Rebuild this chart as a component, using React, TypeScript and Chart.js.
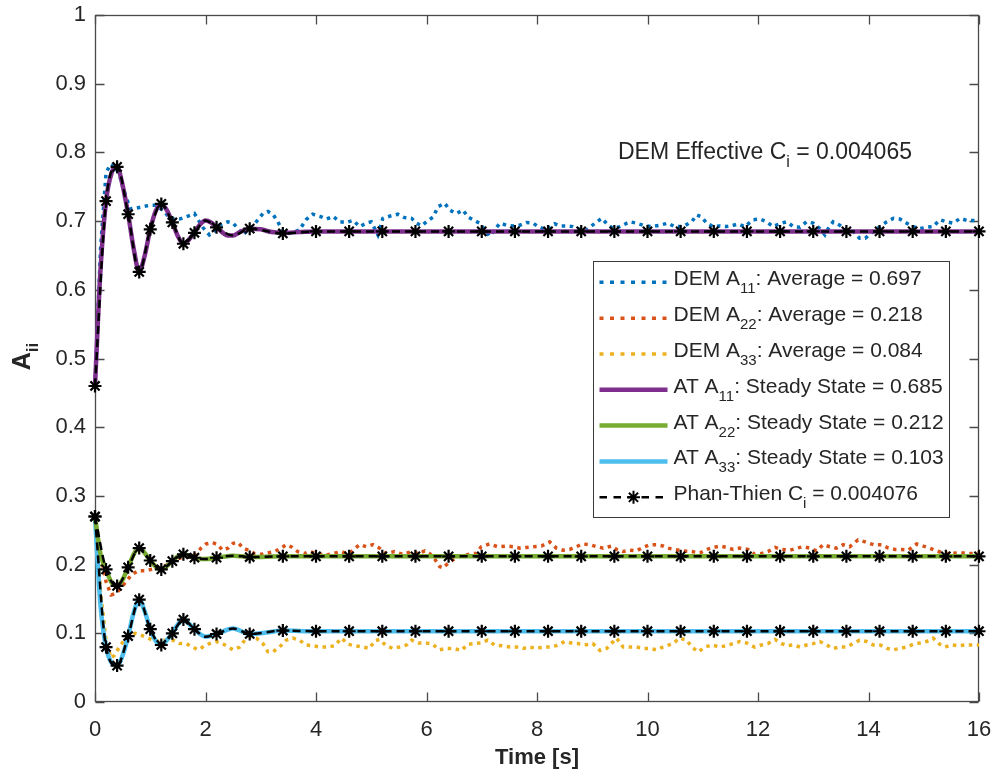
import React, { useEffect, useRef } from "react";
import { Chart, registerables } from "chart.js";

Chart.register(...registerables);

const FONT = "'Liberation Sans', Arial, Helvetica, sans-serif";
const INK = "#262626";
const AXIS = "#4a4a4a";

const COLORS = {
  demA11: "#0072BD",
  demA22: "#D95319",
  demA33: "#EDB120",
  atA11: "#7E2F8E",
  atA22: "#77AC30",
  atA33: "#4DBEEE",
  pt: "#000000",
};

// ---------- axis ticks ----------
const xTickValues = [0, 2, 4, 6, 8, 10, 12, 14, 16];
const xTickLabels = ["0", "2", "4", "6", "8", "10", "12", "14", "16"];
const yTickValues = [0, 0.1, 0.2, 0.3, 0.4, 0.5, 0.6, 0.7, 0.8, 0.9, 1];
const yTickLabels = ["0", "0.1", "0.2", "0.3", "0.4", "0.5", "0.6", "0.7", "0.8", "0.9", "1"];

const xTitle = "Time [s]";
const yTitle: [string, string, string] = ["A", "ii", ""];
const annotationText: [string, string, string] = ["DEM Effective C", "i", " = 0.004065"];

const legendLabels: [string, string, string][] = [
  ["DEM A", "11", ": Average = 0.697"],
  ["DEM A", "22", ": Average = 0.218"],
  ["DEM A", "33", ": Average = 0.084"],
  ["AT A", "11", ": Steady State = 0.685"],
  ["AT A", "22", ": Steady State = 0.212"],
  ["AT A", "33", ": Steady State = 0.103"],
  ["Phan-Thien C", "i", " = 0.004076"],
];

// ---------- DEM (noisy) series: [time, value] ----------
const demA11: [number, number][] = [
  [0, 0.46], [0.1, 0.66], [0.2, 0.77], [0.28, 0.783], [0.37, 0.779], [0.46, 0.762], [0.55, 0.738],
  [0.64, 0.718], [0.75, 0.719], [0.87, 0.721], [0.99, 0.723], [1.1, 0.723], [1.26, 0.714], [1.35, 0.704],
  [1.44, 0.703], [1.53, 0.703], [1.64, 0.706], [1.74, 0.709], [1.8, 0.711], [1.95, 0.691], [2.07, 0.68],
  [2.16, 0.685], [2.25, 0.694], [2.34, 0.697], [2.4, 0.699], [2.5, 0.697], [2.59, 0.689], [2.68, 0.68],
  [2.77, 0.687], [2.86, 0.693], [2.95, 0.702], [3.04, 0.711], [3.13, 0.714], [3.22, 0.71], [3.31, 0.699],
  [3.4, 0.685], [3.52, 0.682], [3.7, 0.687], [3.82, 0.702], [3.94, 0.71], [4.07, 0.707], [4.19, 0.703],
  [4.31, 0.707], [4.43, 0.699], [4.55, 0.698], [4.67, 0.701], [4.79, 0.692], [4.91, 0.697], [5.0, 0.699],
  [5.12, 0.68], [5.21, 0.704], [5.33, 0.707], [5.48, 0.71], [5.6, 0.705], [5.73, 0.704], [5.82, 0.697],
  [5.91, 0.693], [6.0, 0.699], [6.12, 0.706], [6.21, 0.721], [6.33, 0.726], [6.42, 0.716], [6.54, 0.711],
  [6.66, 0.716], [6.75, 0.706], [6.84, 0.702], [6.96, 0.697], [7.08, 0.685], [7.14, 0.678], [7.33, 0.697],
  [7.45, 0.694], [7.57, 0.693], [7.69, 0.694], [7.81, 0.698], [7.93, 0.697], [8.02, 0.692], [8.17, 0.687],
  [8.32, 0.696], [8.41, 0.693], [8.53, 0.693], [8.65, 0.692], [8.77, 0.688], [8.9, 0.687], [9.05, 0.697],
  [9.17, 0.704], [9.29, 0.694], [9.38, 0.689], [9.5, 0.692], [9.68, 0.699], [9.8, 0.697], [9.92, 0.694],
  [10.07, 0.692], [10.22, 0.694], [10.37, 0.697], [10.49, 0.692], [10.64, 0.692], [10.8, 0.699],
  [10.89, 0.709], [10.98, 0.706], [11.07, 0.697], [11.19, 0.692], [11.31, 0.693], [11.43, 0.692],
  [11.52, 0.693], [11.64, 0.696], [11.76, 0.692], [11.91, 0.702], [12.03, 0.703], [12.16, 0.699],
  [12.27, 0.692], [12.43, 0.697], [12.52, 0.699], [12.64, 0.692], [12.76, 0.691], [12.88, 0.699],
  [13.0, 0.697], [13.12, 0.689], [13.21, 0.68], [13.27, 0.689], [13.36, 0.699], [13.48, 0.694],
  [13.6, 0.687], [13.72, 0.685], [13.84, 0.675], [13.94, 0.675], [14.09, 0.685], [14.21, 0.692],
  [14.33, 0.699], [14.45, 0.704], [14.57, 0.703], [14.69, 0.697], [14.81, 0.692], [14.93, 0.689],
  [15.05, 0.691], [15.17, 0.692], [15.29, 0.702], [15.41, 0.699], [15.53, 0.697], [15.66, 0.704],
  [15.78, 0.701], [15.93, 0.701], [16.0, 0.7],
];

const demA22: [number, number][] = [
  [0, 0.27], [0.1, 0.215], [0.2, 0.175], [0.29, 0.156], [0.38, 0.158], [0.47, 0.166], [0.56, 0.175],
  [0.66, 0.185], [0.78, 0.191], [0.9, 0.191], [1.02, 0.193], [1.14, 0.195], [1.29, 0.199], [1.44, 0.207],
  [1.59, 0.211], [1.74, 0.211], [1.83, 0.216], [1.92, 0.224], [2.01, 0.23], [2.13, 0.232], [2.22, 0.229],
  [2.31, 0.221], [2.41, 0.224], [2.5, 0.231], [2.59, 0.232], [2.68, 0.224], [2.77, 0.221], [2.89, 0.216],
  [3.01, 0.215], [3.13, 0.217], [3.25, 0.219], [3.37, 0.224], [3.46, 0.229], [3.55, 0.226], [3.67, 0.219],
  [3.79, 0.216], [3.88, 0.219], [4.01, 0.216], [4.19, 0.214], [4.31, 0.216], [4.46, 0.219], [4.55, 0.216],
  [4.64, 0.219], [4.79, 0.229], [4.91, 0.226], [5.03, 0.229], [5.15, 0.224], [5.27, 0.216], [5.42, 0.219],
  [5.57, 0.215], [5.73, 0.219], [5.85, 0.216], [5.97, 0.22], [6.06, 0.216], [6.15, 0.208], [6.24, 0.197],
  [6.3, 0.195], [6.39, 0.202], [6.48, 0.207], [6.6, 0.212], [6.72, 0.214], [6.81, 0.216], [6.9, 0.216],
  [6.99, 0.226], [7.14, 0.23], [7.29, 0.226], [7.45, 0.227], [7.57, 0.226], [7.69, 0.224], [7.81, 0.225],
  [7.93, 0.226], [8.08, 0.227], [8.23, 0.233], [8.35, 0.224], [8.47, 0.221], [8.59, 0.222], [8.71, 0.226],
  [8.83, 0.23], [8.96, 0.229], [9.08, 0.226], [9.2, 0.224], [9.35, 0.227], [9.44, 0.222], [9.56, 0.219],
  [9.68, 0.221], [9.8, 0.22], [9.92, 0.225], [10.04, 0.229], [10.16, 0.229], [10.28, 0.227], [10.37, 0.224],
  [10.49, 0.222], [10.64, 0.22], [10.8, 0.219], [10.95, 0.217], [11.07, 0.222], [11.19, 0.225],
  [11.31, 0.227], [11.43, 0.225], [11.55, 0.222], [11.67, 0.224], [11.82, 0.222], [11.94, 0.215],
  [12.06, 0.216], [12.18, 0.219], [12.31, 0.225], [12.43, 0.222], [12.58, 0.221], [12.7, 0.224],
  [12.82, 0.226], [12.94, 0.224], [13.06, 0.22], [13.18, 0.229], [13.3, 0.226], [13.42, 0.224],
  [13.54, 0.229], [13.66, 0.226], [13.81, 0.236], [13.94, 0.233], [14.09, 0.229], [14.24, 0.229],
  [14.36, 0.224], [14.48, 0.222], [14.6, 0.222], [14.72, 0.221], [14.87, 0.23], [14.99, 0.227],
  [15.11, 0.224], [15.23, 0.22], [15.35, 0.217], [15.47, 0.216], [15.6, 0.217], [15.72, 0.217],
  [15.87, 0.216], [16.0, 0.217],
];

const demA33: [number, number][] = [
  [0, 0.27], [0.1, 0.16], [0.2, 0.09], [0.29, 0.064], [0.35, 0.068], [0.44, 0.08], [0.53, 0.09],
  [0.62, 0.095], [0.72, 0.1], [0.81, 0.098], [0.93, 0.094], [1.05, 0.09], [1.17, 0.088], [1.26, 0.09],
  [1.41, 0.09], [1.53, 0.085], [1.65, 0.085], [1.77, 0.08], [1.86, 0.076], [1.95, 0.08], [2.07, 0.085],
  [2.19, 0.088], [2.31, 0.085], [2.41, 0.08], [2.5, 0.076], [2.62, 0.08], [2.71, 0.09], [2.8, 0.095],
  [2.92, 0.093], [3.04, 0.085], [3.13, 0.073], [3.22, 0.073], [3.34, 0.08], [3.46, 0.09], [3.58, 0.093],
  [3.7, 0.09], [3.82, 0.083], [3.94, 0.082], [4.07, 0.08], [4.22, 0.08], [4.34, 0.082], [4.46, 0.093],
  [4.58, 0.084], [4.7, 0.082], [4.85, 0.08], [4.97, 0.078], [5.06, 0.089], [5.15, 0.091], [5.27, 0.082],
  [5.39, 0.078], [5.51, 0.08], [5.64, 0.083], [5.73, 0.09], [5.85, 0.086], [5.97, 0.086], [6.09, 0.085],
  [6.24, 0.076], [6.36, 0.078], [6.48, 0.078], [6.63, 0.075], [6.75, 0.084], [6.87, 0.085], [6.99, 0.086],
  [7.11, 0.09], [7.23, 0.083], [7.36, 0.082], [7.51, 0.08], [7.63, 0.08], [7.75, 0.078], [7.87, 0.08],
  [7.99, 0.078], [8.11, 0.08], [8.23, 0.08], [8.35, 0.082], [8.5, 0.088], [8.62, 0.086], [8.74, 0.085],
  [8.86, 0.083], [9.01, 0.085], [9.14, 0.075], [9.26, 0.078], [9.38, 0.088], [9.44, 0.093], [9.56, 0.08],
  [9.68, 0.08], [9.8, 0.08], [9.92, 0.078], [10.04, 0.078], [10.16, 0.076], [10.28, 0.08], [10.46, 0.085],
  [10.58, 0.093], [10.71, 0.09], [10.8, 0.08], [10.92, 0.073], [11.04, 0.08], [11.16, 0.083], [11.31, 0.08],
  [11.43, 0.082], [11.55, 0.085], [11.67, 0.088], [11.79, 0.086], [11.94, 0.08], [12.06, 0.083],
  [12.18, 0.085], [12.31, 0.091], [12.43, 0.085], [12.52, 0.082], [12.64, 0.083], [12.76, 0.08],
  [12.88, 0.083], [13.0, 0.085], [13.12, 0.088], [13.24, 0.083], [13.36, 0.078], [13.48, 0.08],
  [13.6, 0.08], [13.72, 0.085], [13.84, 0.09], [13.97, 0.088], [14.09, 0.083], [14.21, 0.083],
  [14.33, 0.078], [14.45, 0.076], [14.57, 0.078], [14.69, 0.08], [14.81, 0.084], [14.93, 0.086],
  [15.05, 0.088], [15.17, 0.093], [15.29, 0.084], [15.38, 0.08], [15.51, 0.083], [15.63, 0.082],
  [15.75, 0.083], [15.93, 0.083], [16.0, 0.083],
];

// ---------- AT (smooth) series: [time, value] ----------
const atA11: [number, number][] = [
  [0, 0.46], [0.1, 0.63], [0.2, 0.729], [0.3, 0.77], [0.4, 0.779], [0.5, 0.752], [0.6, 0.71], [0.7, 0.66],
  [0.8, 0.626], [0.9, 0.65], [1.0, 0.688], [1.1, 0.715], [1.2, 0.725], [1.3, 0.716], [1.4, 0.698],
  [1.5, 0.678], [1.6, 0.667], [1.7, 0.673], [1.8, 0.684], [1.9, 0.695], [2.0, 0.701], [2.1, 0.698],
  [2.2, 0.691], [2.3, 0.684], [2.4, 0.679], [2.5, 0.679], [2.6, 0.683], [2.7, 0.687], [2.8, 0.689],
  [3.0, 0.688], [3.2, 0.684], [3.4, 0.683], [3.7, 0.684], [4.0, 0.685], [16.0, 0.685],
];

const atA22: [number, number][] = [
  [0, 0.27], [0.1, 0.215], [0.2, 0.193], [0.3, 0.174], [0.4, 0.169], [0.5, 0.178], [0.6, 0.196],
  [0.7, 0.215], [0.8, 0.224], [0.9, 0.217], [1.0, 0.206], [1.1, 0.197], [1.2, 0.193], [1.3, 0.198],
  [1.4, 0.205], [1.5, 0.212], [1.6, 0.215], [1.7, 0.213], [1.8, 0.21], [1.9, 0.208], [2.0, 0.208],
  [2.2, 0.21], [2.5, 0.213], [2.8, 0.211], [3.4, 0.212], [16.0, 0.212],
];

const atA33: [number, number][] = [
  [0, 0.27], [0.1, 0.14], [0.2, 0.08], [0.3, 0.057], [0.4, 0.053], [0.5, 0.068], [0.6, 0.096],
  [0.7, 0.13], [0.8, 0.149], [0.9, 0.132], [1.0, 0.106], [1.1, 0.089], [1.2, 0.083], [1.3, 0.09],
  [1.4, 0.1], [1.5, 0.113], [1.6, 0.12], [1.7, 0.114], [1.8, 0.106], [1.9, 0.099], [2.0, 0.095],
  [2.2, 0.099], [2.5, 0.107], [2.8, 0.099], [3.1, 0.101], [3.4, 0.104], [4.0, 0.103], [16.0, 0.103],
];

// ---------- Phan-Thien model (marked points) ----------
const ptTime = [
  0, 0.2, 0.4, 0.6, 0.8, 1.0, 1.2, 1.4, 1.6, 1.8, 2.0, 2.2, 2.5, 2.8, 3.4,
  4.0, 4.6, 5.2, 5.8, 6.4, 7.0, 7.6, 8.2, 8.8, 9.4, 10.0, 10.6, 11.2, 11.8, 12.4, 13.0, 13.6, 14.2, 14.8, 15.4, 16.0,
];
const ptUnmarkedTimes = [2.0, 2.5];
const ptA11 = [
  0.46, 0.729, 0.779, 0.71, 0.626, 0.688, 0.725, 0.698, 0.667, 0.683, 0.701, 0.691, 0.679, 0.689, 0.682,
  0.685, 0.685, 0.685, 0.685, 0.685, 0.685, 0.685, 0.685, 0.685, 0.685, 0.685, 0.685, 0.685, 0.685, 0.685,
  0.685, 0.685, 0.685, 0.685, 0.685, 0.685,
];
const ptA22 = [
  0.27, 0.193, 0.169, 0.196, 0.224, 0.206, 0.193, 0.205, 0.215, 0.21, 0.208, 0.21, 0.213, 0.211, 0.212,
  0.212, 0.212, 0.212, 0.212, 0.212, 0.212, 0.212, 0.212, 0.212, 0.212, 0.212, 0.212, 0.212, 0.212, 0.212,
  0.212, 0.212, 0.212, 0.212, 0.212, 0.212,
];
const ptA33 = [
  0.27, 0.08, 0.053, 0.096, 0.149, 0.106, 0.083, 0.1, 0.12, 0.106, 0.095, 0.099, 0.107, 0.099, 0.104,
  0.103, 0.103, 0.103, 0.103, 0.103, 0.103, 0.103, 0.103, 0.103, 0.103, 0.103, 0.103, 0.103, 0.103, 0.103,
  0.103, 0.103, 0.103, 0.103, 0.103, 0.103,
];

type Kind = "dot" | "solid" | "pt";
const legendKinds: { kind: Kind; color: string }[] = [
  { kind: "dot", color: COLORS.demA11 },
  { kind: "dot", color: COLORS.demA22 },
  { kind: "dot", color: COLORS.demA33 },
  { kind: "solid", color: COLORS.atA11 },
  { kind: "solid", color: COLORS.atA22 },
  { kind: "solid", color: COLORS.atA33 },
  { kind: "pt", color: COLORS.pt },
];

const DOT_DASH = [3.5, 4.5];
const PT_DASH = [8, 5];
const STAR_R = 6.5;

function pairs(arr: [number, number][]) {
  return arr.map(([x, y]) => ({ x, y }));
}

function drawSub(
  ctx: CanvasRenderingContext2D,
  parts: [string, string, string],
  x: number,
  y: number,
  size: number,
  subSize: number,
  subDrop: number,
  bold = false,
  measureOnly = false
) {
  const w = bold ? "bold " : "";
  const main = `${w}${size}px ${FONT}`;
  const sub = `${w}${subSize}px ${FONT}`;
  let cx = x;
  ctx.font = main;
  if (!measureOnly) ctx.fillText(parts[0], cx, y);
  cx += ctx.measureText(parts[0]).width;
  ctx.font = sub;
  if (!measureOnly) ctx.fillText(parts[1], cx, y + subDrop);
  cx += ctx.measureText(parts[1]).width;
  ctx.font = main;
  if (!measureOnly) ctx.fillText(parts[2], cx, y);
  cx += ctx.measureText(parts[2]).width;
  return cx - x;
}

function drawStar(ctx: CanvasRenderingContext2D, x: number, y: number, r: number) {
  ctx.beginPath();
  for (let k = 0; k < 4; k++) {
    const a = (k * Math.PI) / 4;
    ctx.moveTo(x - Math.cos(a) * r, y - Math.sin(a) * r);
    ctx.lineTo(x + Math.cos(a) * r, y + Math.sin(a) * r);
  }
  ctx.stroke();
}

const decorPlugin = {
  id: "decor",
  beforeDatasetsDraw(chart: any) {
    const { ctx, chartArea: a, scales } = chart;
    ctx.save();
    ctx.strokeStyle = AXIS;
    ctx.lineWidth = 1.3;
    const L = a.left + 0.5, R = a.right - 0.5, T = a.top + 0.5, B = a.bottom - 0.5;
    ctx.strokeRect(L, T, R - L, B - T);
    ctx.beginPath();
    for (const t of scales.x.ticks) {
      const px = Math.round(scales.x.getPixelForValue(t.value)) + 0.5;
      ctx.moveTo(px, B); ctx.lineTo(px, B - 9);
      ctx.moveTo(px, T); ctx.lineTo(px, T + 9);
    }
    for (const t of scales.y.ticks) {
      const py = Math.round(scales.y.getPixelForValue(t.value)) + 0.5;
      ctx.moveTo(L, py); ctx.lineTo(L + 9, py);
      ctx.moveTo(R, py); ctx.lineTo(R - 9, py);
    }
    ctx.stroke();
    ctx.restore();
  },
  afterDraw(chart: any) {
    const { ctx, chartArea: a } = chart;
    ctx.save();
    ctx.fillStyle = INK;
    ctx.textBaseline = "alphabetic";
    ctx.textAlign = "left";

    // annotation
    drawSub(ctx, annotationText, 618, 158.5, 23, 16, 8);

    // y-axis title (rotated)
    const tw = drawSub(ctx, yTitle, 0, 0, 25, 17, 8, true, true);
    const cy = (a.top + a.bottom) / 2;
    ctx.save();
    ctx.translate(29.5, cy - 2);
    ctx.rotate(-Math.PI / 2);
    drawSub(ctx, yTitle, -tw / 2, 0, 25, 17, 8, true);
    ctx.restore();

    // legend
    const bx = 593.5, by = 261.5, bw = 356, bh = 256;
    ctx.fillStyle = "#ffffff";
    ctx.fillRect(bx, by, bw, bh);
    ctx.strokeStyle = "#3a3a3a";
    ctx.lineWidth = 1;
    ctx.strokeRect(bx, by, bw, bh);
    const lx0 = 599.5, lx1 = 667.5, tx = 673.5;
    legendLabels.forEach((parts, i) => {
      const ly = 282.3 + i * 35.83;
      const st = legendKinds[i];
      ctx.save();
      ctx.strokeStyle = st.color;
      ctx.lineCap = "butt";
      if (st.kind === "dot") {
        ctx.lineWidth = 3.5;
        ctx.setLineDash([4, 6.5]);
      } else if (st.kind === "solid") {
        ctx.lineWidth = 4.5;
        ctx.setLineDash([]);
      } else {
        ctx.lineWidth = 2.5;
        ctx.setLineDash([7.5, 6.5]);
      }
      ctx.beginPath();
      ctx.moveTo(lx0, ly);
      ctx.lineTo(lx1, ly);
      ctx.stroke();
      if (st.kind === "pt") {
        ctx.setLineDash([]);
        ctx.lineWidth = 2;
        drawStar(ctx, (lx0 + lx1) / 2, ly, STAR_R);
      }
      ctx.restore();
      ctx.fillStyle = INK;
      drawSub(ctx, parts, tx, ly + 3, 21, 15, 8);
    });
    ctx.restore();
  },
};

export default function App() {
  const ref = useRef<HTMLCanvasElement | null>(null);

  useEffect(() => {
    document.body.style.margin = "0";
    const canvas = ref.current;
    if (!canvas) return;

    const demStyle = (color: string) => ({
      borderColor: color,
      backgroundColor: color,
      borderWidth: 3.5,
      borderDash: DOT_DASH,
      pointRadius: 0,
      tension: 0,
      fill: false,
      clip: false as any,
      order: 3,
    });
    const atStyle = (color: string) => ({
      borderColor: color,
      backgroundColor: color,
      borderWidth: 4.5,
      pointRadius: 0,
      cubicInterpolationMode: "monotone" as const,
      fill: false,
      clip: false as any,
      order: 2,
    });
    const ptStyle = {
      borderColor: COLORS.pt,
      backgroundColor: COLORS.pt,
      borderWidth: 2.5,
      borderDash: PT_DASH,
      pointStyle: "star" as const,
      pointRadius: ptTime.map((t) => (ptUnmarkedTimes.includes(t) ? 0 : STAR_R)),
      pointBorderColor: COLORS.pt,
      pointBorderWidth: 2.2,
      cubicInterpolationMode: "monotone" as const,
      fill: false,
      clip: false as any,
      order: 1,
    };

    const chart = new Chart(canvas, {
      type: "line",
      data: {
        datasets: [
          { label: "DEM A11", data: pairs(demA11), ...demStyle(COLORS.demA11) },
          { label: "DEM A22", data: pairs(demA22), ...demStyle(COLORS.demA22) },
          { label: "DEM A33", data: pairs(demA33), ...demStyle(COLORS.demA33) },
          { label: "AT A11", data: pairs(atA11), ...atStyle(COLORS.atA11) },
          { label: "AT A22", data: pairs(atA22), ...atStyle(COLORS.atA22) },
          { label: "AT A33", data: pairs(atA33), ...atStyle(COLORS.atA33) },
          { label: "Phan-Thien A11", data: ptTime.map((t, i) => ({ x: t, y: ptA11[i] })), ...ptStyle },
          { label: "Phan-Thien A22", data: ptTime.map((t, i) => ({ x: t, y: ptA22[i] })), ...ptStyle },
          { label: "Phan-Thien A33", data: ptTime.map((t, i) => ({ x: t, y: ptA33[i] })), ...ptStyle },
        ] as any,
      },
      options: {
        responsive: false,
        animation: false,
        devicePixelRatio: 1,
        layout: { padding: { top: 15, right: 15, left: 0, bottom: 0 } },
        plugins: {
          legend: { display: false },
          tooltip: { enabled: false },
        },
        scales: {
          x: {
            type: "linear",
            min: 0,
            max: 16,
            afterBuildTicks: (s: any) => {
              s.ticks = xTickValues.map((v) => ({ value: v }));
            },
            afterFit: (s: any) => {
              s.height = 74;
              s.paddingLeft = 0;
              s.paddingRight = 0;
              s.paddingTop = 0;
              s.paddingBottom = 0;
            },
            ticks: {
              autoSkip: false,
              maxRotation: 0,
              padding: 15,
              color: INK,
              font: { family: FONT, size: 22 },
              callback: (_v: any, i: number) => xTickLabels[i],
            },
            grid: { display: false, drawTicks: false },
            border: { display: false },
            title: {
              display: true,
              text: xTitle,
              color: INK,
              font: { family: FONT, size: 22, weight: "bold" },
              padding: { top: 0, bottom: 5 },
            },
          },
          y: {
            type: "linear",
            min: 0,
            max: 1,
            afterBuildTicks: (s: any) => {
              s.ticks = yTickValues.map((v) => ({ value: v }));
            },
            afterFit: (s: any) => {
              s.width = 95;
              s.paddingLeft = 0;
              s.paddingRight = 0;
              s.paddingTop = 0;
              s.paddingBottom = 0;
            },
            ticks: {
              autoSkip: false,
              padding: 9,
              color: INK,
              font: { family: FONT, size: 22 },
              callback: (_v: any, i: number) => yTickLabels[i],
            },
            grid: { display: false, drawTicks: false },
            border: { display: false },
          },
        },
      } as any,
      plugins: [decorPlugin],
    });

    return () => chart.destroy();
  }, []);

  return (
    <div style={{ width: 994, height: 776, background: "#ffffff" }}>
      <canvas ref={ref} width={994} height={776} style={{ display: "block" }} />
    </div>
  );
}
